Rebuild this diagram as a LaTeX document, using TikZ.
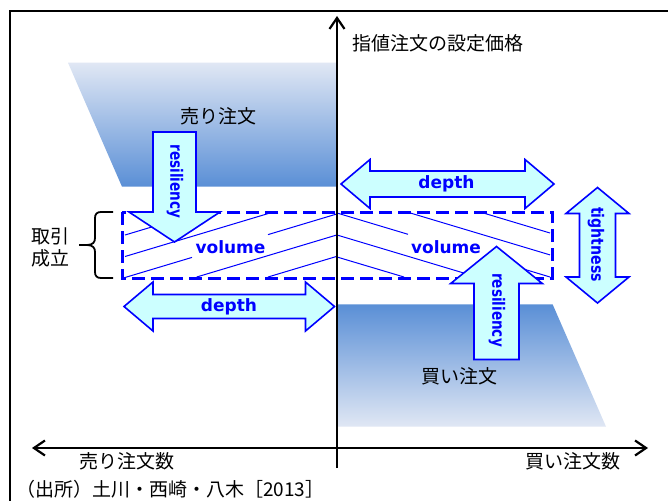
\documentclass[tikz,border=0pt]{standalone}
\usepackage{fontspec}
\newfontfamily\jp{Noto Sans CJK JP}
\newfontfamily\lat{DejaVu Sans}
\usetikzlibrary{arrows.meta}
\definecolor{bl}{HTML}{0000FF}
\definecolor{cyanf}{HTML}{CCFFFF}
\definecolor{shdark}{HTML}{5A8FD6}
\definecolor{shlight}{HTML}{E0E7F4}
\tikzset{
  jp/.style={font=\jp\fontsize{19}{21}\selectfont, inner sep=0pt},
  lbl/.style={font=\lat\bfseries\fontsize{17}{20}\selectfont, text=bl, inner sep=0pt},
  arrowbox/.style={draw=bl, fill=cyanf, line width=1.6pt, line join=miter},
  hatch/.style={draw=bl, line width=1pt},
  axis/.style={draw=black, line width=2.2pt},
  box/.style={draw=bl, line width=3pt, dash pattern=on 13pt off 6pt},
}
\newcommand\myHDArrow[5]{% xl, xr, y, shaft half, head half
  \draw[arrowbox] (#1,#3) -- ({#1+29},{#3-#5}) -- ({#1+29},{#3-#4}) -- ({#2-29},{#3-#4}) -- ({#2-29},{#3-#5}) -- (#2,#3) -- ({#2-29},{#3+#5}) -- ({#2-29},{#3+#4}) -- ({#1+29},{#3+#4}) -- ({#1+29},{#3+#5}) -- cycle;}
\begin{document}
\begin{tikzpicture}[x=1pt,y=-1pt]
\useasboundingbox (0,0) rectangle (668,500);
\clip (0,0) rectangle (668,500);
\fill[white] (0,0) rectangle (668,500);
% frame
\draw[line width=2pt] (10,11) rectangle (720,560);
% order volumes
\shade[top color=shlight, bottom color=shdark] (68,62.7) -- (337,62.7) -- (337,186.7) -- (122,186.7) -- cycle;
\shade[top color=shdark, bottom color=shlight] (337,304.3) -- (552.6,304.3) -- (606,426.7) -- (337,426.7) -- cycle;
% hatching, left half
\draw[hatch] (125,235) -- (200,212.5);
\draw[hatch] (125,256.5) -- (273,212.1);
\draw[hatch] (125,277.5) -- (192,257.4);
\draw[hatch] (268,234.6) -- (337,213.9);
\draw[hatch] (196.7,277) -- (337,234.9);
\draw[hatch] (268,277) -- (337,256.3);
% hatching, right half
\draw[hatch] (480,212) -- (550,233);
\draw[hatch] (407,212) -- (550,254.9);
\draw[hatch] (337,213) -- (408,234.3);
\draw[hatch] (483,256.8) -- (550,277);
\draw[hatch] (337,235) -- (477,277);
\draw[hatch] (337,257) -- (404,277);
% dashed box
\draw[box] (122,212.3) rectangle (552.5,278);
% axes
\coordinate (vb) at (337,468);
\coordinate (vt) at (337,16);
\coordinate (hl) at (32,448);
\coordinate (hr) at (648,448);
\draw[axis,-{Straight Barb[length=11pt,width=15pt]}] (vb) -- (vt);
\draw[axis,{Straight Barb[length=11pt,width=15pt]}-{Straight Barb[length=11pt,width=15pt]}] (hl) -- (hr);
% brace
\draw[line width=1.8pt] (113,212) -- (101,212) .. controls (97,212) and (95,214) .. (95,218) -- (95,238) .. controls (95,242) and (93,245) .. (87,245) -- (79,245) -- (87,245) .. controls (93,245) and (95,248) .. (95,252) -- (95,272) .. controls (95,276) and (97,278) .. (101,278) -- (113,278);
% block arrows
\myHDArrow{341}{554}{184}{13}{24.5}
\myHDArrow{124}{334.5}{306.5}{12}{24.5}
\draw[arrowbox] (597.5,187.5) -- (629,213.5) -- (615.5,213.5) -- (615.5,277) -- (629,277) -- (597.5,303) -- (566,277) -- (579.5,277) -- (579.5,213.5) -- (566,213.5) -- cycle;
\draw[arrowbox] (153,132) -- (196,132) -- (196,212) -- (220,212) -- (174.5,242) -- (129,212) -- (153,212) -- cycle;
\draw[arrowbox] (474,359.5) -- (519,359.5) -- (519,283.5) -- (542.3,283.5) -- (496.5,246.5) -- (450.7,283.5) -- (474,283.5) -- cycle;
% labels
\node[lbl] (dtop) at (446.5,184) {depth};
\node[lbl] (dbot) at (229,306.5) {depth};
\node[lbl] (vl) at (230.5,247) {volume};
\node[lbl] (vr) at (446,247) {volume};
\node[lbl, rotate=-90] (rl) at (175,181.5) {\scalebox{0.8}[1]{resiliency}};
\node[lbl, rotate=-90] (rr) at (497,310) {\scalebox{0.8}[1]{resiliency}};
\node[lbl, rotate=-90] (ti) at (596,244.5) {\scalebox{0.83}[1]{tightness}};
\node[jp, anchor=west] (ylab) at (352,43.3) {指値注文の設定価格};
\node[jp] (sell) at (218,116) {売り注文};
\node[jp] (buy) at (459.6,376) {買い注文};
\node[jp] (sellx) at (127,461) {売り注文数};
\node[jp] (buyx) at (573,461) {買い注文数};
\node[jp] (tr1) at (50,236.5) {取引};
\node[jp] (tr2) at (50,258) {成立};
\node[jp, anchor=west] (src) at (16,489.5) {（出所）土川・西崎・八木［2013］};
\end{tikzpicture}
\end{document}
